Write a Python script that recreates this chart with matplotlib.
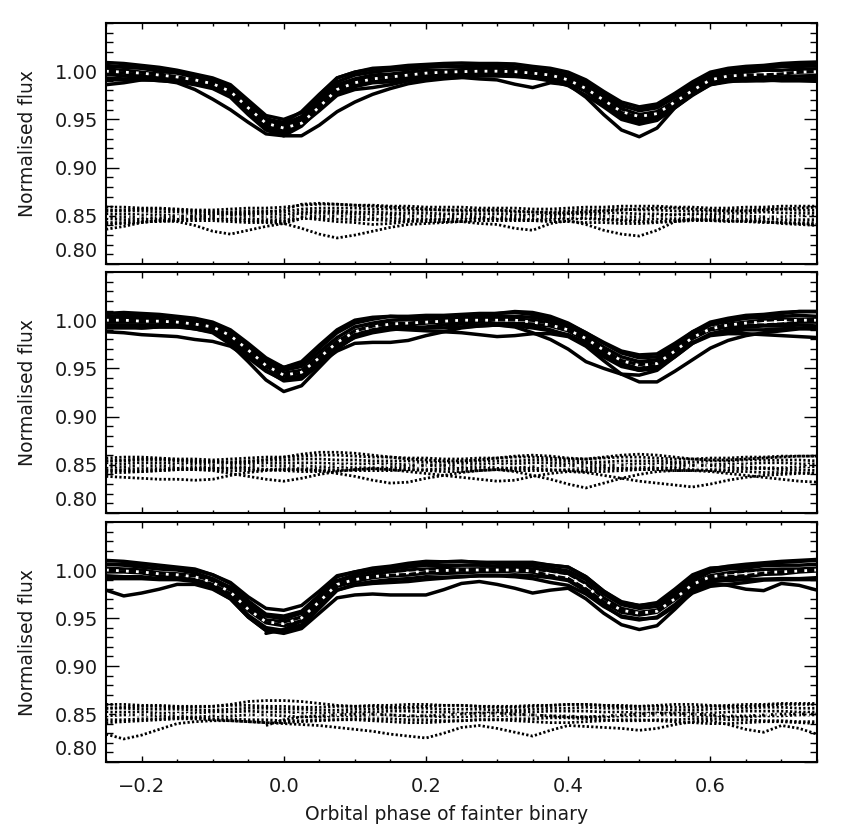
import numpy as np
import matplotlib
matplotlib.use("Agg")
import matplotlib.pyplot as plt
from matplotlib.ticker import MultipleLocator, FixedLocator
from matplotlib.transforms import offset_copy

# ---------------- data ----------------
phase = [-0.25, -0.225, -0.2, -0.175, -0.15, -0.125, -0.1, -0.075, -0.05, -0.025,
         0.0, 0.025, 0.05, 0.075, 0.1, 0.125, 0.15, 0.175, 0.2, 0.225,
         0.25, 0.275, 0.3, 0.325, 0.35, 0.375, 0.4, 0.425, 0.45, 0.475,
         0.5, 0.525, 0.55, 0.575, 0.6, 0.625, 0.65, 0.675, 0.7, 0.725, 0.75]

# model light curves (normalised flux)
model_p1 = [1.000, 0.999, 0.998, 0.996, 0.994, 0.991, 0.987, 0.979, 0.962, 0.946,
            0.941, 0.946, 0.963, 0.981, 0.988, 0.992, 0.994, 0.996, 0.998, 0.999,
            0.9995, 1.000, 1.000, 0.9995, 0.998, 0.996, 0.991, 0.982, 0.970, 0.958,
            0.953, 0.956, 0.968, 0.980, 0.991, 0.995, 0.996, 0.997, 0.998, 0.999,
            0.9995]
model_p2 = [1.000, 1.000, 0.999, 0.999, 0.998, 0.996, 0.993, 0.984, 0.969, 0.953,
            0.943, 0.946, 0.961, 0.977, 0.988, 0.993, 0.996, 0.997, 0.998, 0.999,
            1.000, 1.000, 1.000, 1.000, 0.998, 0.995, 0.990, 0.981, 0.969, 0.958,
            0.953, 0.955, 0.968, 0.982, 0.991, 0.995, 0.997, 0.998, 0.999, 1.000,
            1.000]
model_p3 = [1.000, 0.999, 0.998, 0.996, 0.995, 0.993, 0.987, 0.977, 0.959, 0.946,
            0.944, 0.950, 0.967, 0.985, 0.990, 0.993, 0.995, 0.997, 0.999, 0.9995,
            1.000, 1.000, 1.000, 1.000, 0.999, 0.996, 0.993, 0.983, 0.969, 0.958,
            0.955, 0.957, 0.970, 0.985, 0.993, 0.995, 0.996, 0.9975, 0.998, 0.999,
            1.000]

# observed minus model for each light curve, in units of 0.001
p1_c1 = [9, 9, 8, 8, 7, 6, 6, 7, 8, 8, 9, 11, 12, 12, 11, 11, 10, 10, 9, 9, 9, 8, 8, 8, 7, 7, 8, 9, 9, 10, 10, 10, 9, 9, 8, 8, 9, 9, 10, 10, 10]
p1_c2 = [6, 5, 5, 4, 4, 3, 3, 4, 5, 5, 4, 7, 8, 8, 8, 7, 7, 6, 6, 6, 5, 5, 5, 4, 4, 4, 5, 6, 6, 7, 6, 6, 5, 5, 5, 6, 6, 7, 7, 6, 6]
p1_c3 = [2, 2, 1, 1, 0, 0, 1, 1, 2, 2, 1, 4, 5, 5, 4, 4, 3, 3, 3, 2, 2, 2, 2, 1, 1, 1, 2, 3, 3, 3, 2, 2, 1, 2, 2, 3, 3, 4, 3, 3, 3]
p1_c4 = [-1, -1, -2, -2, -1, 0, 0, 1, 0, -1, -2, 2, 3, 3, 2, 1, 1, 0, 0, 0, 0, -1, -1, -1, 0, 0, 1, 1, 0, -1, -1, 0, 1, 1, 0, 0, 0, -1, -1, 0, 0]
p1_c5 = [-3, -4, -4, -3, -3, -2, -2, -2, -3, -4, -5, -1, 0, 0, -1, -2, -2, -3, -3, -3, -2, -2, -3, -3, -3, -2, -2, -2, -3, -4, -4, -3, -3, -2, -2, -2, -3, -3, -4, -4, -4]
p1_c6 = [-7, -7, -6, -6, -5, -5, -5, -6, -7, -7, -8, -3, -2, -3, -4, -4, -5, -5, -6, -6, -6, -5, -5, -5, -5, -6, -6, -7, -7, -8, -8, -7, -6, -5, -5, -5, -6, -6, -7, -7, -7]
p1_c7 = [5, 6, 7, 7, 6, 5, 4, 3, 3, 4, 6, 12, 13, 12, 11, 10, 9, 8, 7, 6, 6, 6, 6, 5, 4, 3, 3, 4, 5, 6, 7, 8, 8, 7, 6, 5, 5, 6, 7, 8, 9]
p1_c8 = [-9, -8, -7, -5, -4, -3, -3, -4, -5, -6, -6, -2, -4, -6, -7, -9, -8, -6, -5, -4, -4, -3, -3, -4, -5, -4, -3, -3, -4, -5, -6, -6, -5, -4, -4, -5, -6, -7, -7, -8, -9]
p1_c9 = [-14, -11, -7, -5, -6, -10, -16, -19, -15, -11, -8, -13, -19, -23, -20, -16, -12, -9, -8, -7, -6, -8, -9, -13, -15, -8, -5, -9, -15, -19, -21, -15, -6, -4, -5, -6, -5, -6, -8, -9, -10]

p2_c1 = [7, 8, 8, 7, 6, 6, 5, 6, 7, 8, 8, 9, 10, 10, 9, 8, 8, 7, 7, 6, 6, 7, 7, 8, 8, 7, 6, 6, 7, 8, 8, 7, 6, 6, 7, 7, 8, 8, 9, 9, 9]
p2_c2 = [4, 4, 5, 5, 4, 3, 3, 3, 4, 5, 5, 6, 6, 5, 5, 4, 4, 4, 3, 3, 3, 4, 4, 4, 5, 5, 4, 3, 3, 4, 4, 4, 3, 3, 4, 4, 5, 5, 5, 5, 4]
p2_c3 = [1, 1, 2, 2, 1, 1, 0, 0, 1, 2, 2, 2, 2, 1, 1, 1, 1, 0, 0, 0, 1, 1, 1, 1, 2, 2, 1, 1, 0, 0, 1, 1, 1, 0, 0, 1, 1, 2, 2, 1, 1]
p2_c4 = [-2, -2, -1, -1, -2, -2, -3, -3, -2, -1, -1, -1, -2, -2, -3, -3, -2, -2, -1, -1, -2, -2, -3, -3, -2, -1, -1, -2, -2, -3, -3, -2, -2, -1, -1, -2, -2, -3, -3, -2, -2]
p2_c5 = [-5, -5, -4, -4, -4, -5, -5, -6, -6, -5, -4, -4, -5, -5, -6, -6, -6, -5, -5, -4, -4, -5, -5, -6, -6, -6, -5, -5, -4, -4, -5, -5, -6, -6, -5, -5, -4, -4, -5, -5, -6]
p2_c6 = [4, 5, 6, 6, 5, 4, 3, 2, 3, 5, 8, 11, 13, 13, 12, 10, 8, 6, 5, 4, 4, 5, 7, 9, 10, 9, 7, 6, 8, 10, 11, 10, 8, 6, 5, 5, 6, 7, 8, 9, 9]
p2_c7 = [-8, -8, -7, -6, -5, -4, -3, -3, -4, -5, -6, -7, -7, -6, -5, -4, -4, -5, -6, -7, -7, -6, -5, -4, -4, -5, -6, -7, -7, -6, -5, -4, -4, -5, -6, -7, -7, -8, -8, -8, -9]
p2_c8 = [-12, -13, -14, -15, -15, -16, -15, -11, -8, -6, -5, -5, -6, -9, -12, -16, -19, -18, -14, -11, -8, -6, -5, -7, -11, -15, -20, -24, -19, -14, -10, -7, -6, -6, -7, -9, -11, -13, -15, -17, -18]
p2_c9 = [-6, -6, -7, -6, -5, -5, -6, -9, -12, -15, -17, -14, -10, -7, -5, -4, -5, -7, -9, -11, -13, -15, -17, -16, -12, -9, -7, -8, -11, -14, -17, -19, -21, -23, -20, -16, -13, -11, -10, -9, -9]

p3_c1 = [10, 10, 9, 9, 8, 8, 8, 9, 9, 8, 8, 7, 7, 8, 8, 9, 9, 10, 10, 9, 9, 8, 8, 8, 9, 9, 10, 10, 9, 9, 8, 8, 7, 7, 8, 9, 10, 10, 11, 11, 11]
p3_c2 = [6, 6, 5, 5, 5, 4, 4, 5, 6, 6, 5, 5, 4, 4, 5, 5, 6, 6, 6, 5, 5, 5, 4, 4, 5, 6, 6, 7, 6, 6, 5, 5, 4, 4, 5, 6, 6, 7, 7, 6, 6]
p3_c3 = [2, 2, 2, 1, 1, 1, 2, 2, 3, 2, 2, 1, 1, 1, 2, 2, 3, 3, 2, 2, 1, 1, 1, 2, 2, 3, 3, 3, 2, 2, 1, 1, 0, 1, 1, 2, 3, 3, 3, 2, 2]
p3_c4 = [-2, -1, -1, -2, -2, -3, -2, -2, -1, -1, -2, -3, -3, -2, -2, -1, -1, -2, -2, -3, -3, -2, -2, -1, -1, -2, -2, -3, -3, -2, -2, -1, -1, -2, -2, -3, -3, -2, -2, -1, -1]
p3_c5 = [-6, -6, -5, -5, -4, -4, -5, -5, -6, -6, -7, -7, -6, -6, -5, -5, -5, -6, -6, -7, -7, -6, -6, -5, -5, -4, -4, -5, -6, -7, -7, -6, -6, -5, -5, -6, -6, -7, -7, -8, -8]
p3_c6 = [6, 7, 8, 8, 7, 7, 8, 10, 13, 14, 14, 13, 11, 9, 8, 8, 7, 7, 8, 9, 9, 8, 7, 7, 8, 9, 10, 10, 9, 8, 8, 9, 10, 10, 9, 8, 8, 9, 10, 10, 10]
p3_c7 = [-9, -8, -7, -6, -5, -5, -6, -7, -8, -9, -9, -8, -7, -6, -6, -7, -8, -9, -9, -8, -7, -6, -6, -7, -8, -9, -9, -8, -7, -6, -6, -7, -8, -9, -10, -10, -9, -8, -8, -9, -10]
p3_c8 = [-21, -26, -22, -16, -10, -8, -7, -7, -8, -9, -10, -11, -12, -14, -16, -18, -21, -23, -25, -20, -14, -12, -15, -19, -23, -17, -12, -13, -14, -15, -17, -15, -11, -8, -7, -11, -16, -19, -12, -15, -21]
p3_c9 = [None] * 9 + [-12, -6, -3, -2, -1, 0, 0, -1, -2, -2, -1, 0, 1, 1, 0, -1, -2, -3, -3, -2, -1, 0, 1, 1, 0, -1, -2, -2, -1, 0, 0, 0]

residual_offset = 0.85
yticks = [0.80, 0.85, 0.90, 0.95, 1.00]
ytick_labels = ["0.80", "0.85", "0.90", "0.95", "1.00"]
xticks = [-0.2, 0.0, 0.2, 0.4, 0.6]
xtick_labels = ["\u22120.2", "0.0", "0.2", "0.4", "0.6"]
ylabel = "Normalised flux"
xlabel = "Orbital phase of fainter binary"

panels = [
    (model_p1, [p1_c1, p1_c2, p1_c3, p1_c4, p1_c5, p1_c6, p1_c7, p1_c8, p1_c9]),
    (model_p2, [p2_c1, p2_c2, p2_c3, p2_c4, p2_c5, p2_c6, p2_c7, p2_c8, p2_c9]),
    (model_p3, [p3_c1, p3_c2, p3_c3, p3_c4, p3_c5, p3_c6, p3_c7, p3_c8, p3_c9]),
]

# ---------------- figure ----------------
plt.rcParams["font.family"] = ["DejaVu Sans"]
W, H = 856, 824
fig = plt.figure(figsize=(W / 100, H / 100), dpi=100)

boxes = [(23, 264), (272, 513), (522, 762)]
left_px, right_px = 106, 817
txtcol = "#1a1a1a"

ph = np.array(phase)
for i, ((model, curves), (top, bot)) in enumerate(zip(panels, boxes)):
    ax = fig.add_axes([left_px / W, 1 - bot / H, (right_px - left_px) / W, (bot - top) / H])
    m = np.array(model, dtype=float)
    devs = [np.array([np.nan if v is None else v for v in c], dtype=float) / 1000.0 for c in curves]
    for d in devs:
        ax.plot(ph, m + d, color="k", lw=2.5, solid_joinstyle="round", solid_capstyle="round")
    ax.plot(ph, m, color="white", lw=2.0, linestyle=(0, (1, 2.6)), dash_capstyle="butt")
    for d in devs:
        ax.plot(ph, residual_offset + d, color="k", lw=2.0, linestyle=(0, (0.8, 0.8)),
                dash_capstyle="butt")
    ax.plot(ph, residual_offset + 0.0 * m, color="white", lw=2.0, linestyle=(0, (1, 2.6)),
            dash_capstyle="butt")

    ax.set_xlim(-0.25, 0.75)
    ax.set_ylim(0.80, 1.05)
    ax.xaxis.set_major_locator(FixedLocator(xticks))
    ax.xaxis.set_minor_locator(MultipleLocator(0.05))
    ax.yaxis.set_major_locator(FixedLocator(yticks))
    ax.yaxis.set_minor_locator(MultipleLocator(0.01))
    ax.tick_params(which="both", direction="in", top=True, right=True, width=1.0, colors="k")
    ax.tick_params(axis="y", which="major", length=9.5, pad=5.5, labelsize=14, labelcolor=txtcol)
    ax.tick_params(axis="y", which="minor", length=5)
    ax.tick_params(axis="x", which="major", length=4.5, pad=11, labelsize=14, labelcolor=txtcol)
    ax.tick_params(axis="x", which="minor", length=2.5)
    ax.set_yticklabels([""] + ytick_labels[1:])
    tr = offset_copy(ax.get_yaxis_transform(), fig=fig, x=-5.5, y=9, units="points")
    ax.text(0, yticks[0], ytick_labels[0], transform=tr, ha="right", va="center",
            fontsize=14, color=txtcol)
    if i < 2:
        ax.set_xticklabels([])
    else:
        ax.set_xticklabels(xtick_labels)
    for s in ax.spines.values():
        s.set_linewidth(1.5)
    fig.text(28 / W, 1 - (top + bot) / 2 / H, ylabel, rotation=90, ha="center", va="center",
             fontsize=13.5, color=txtcol)

fig.text(447 / W, 1 - 820 / H, xlabel, ha="center", va="baseline", fontsize=13.5, color=txtcol)

fig.savefig("out.png", dpi=100, facecolor="white")
